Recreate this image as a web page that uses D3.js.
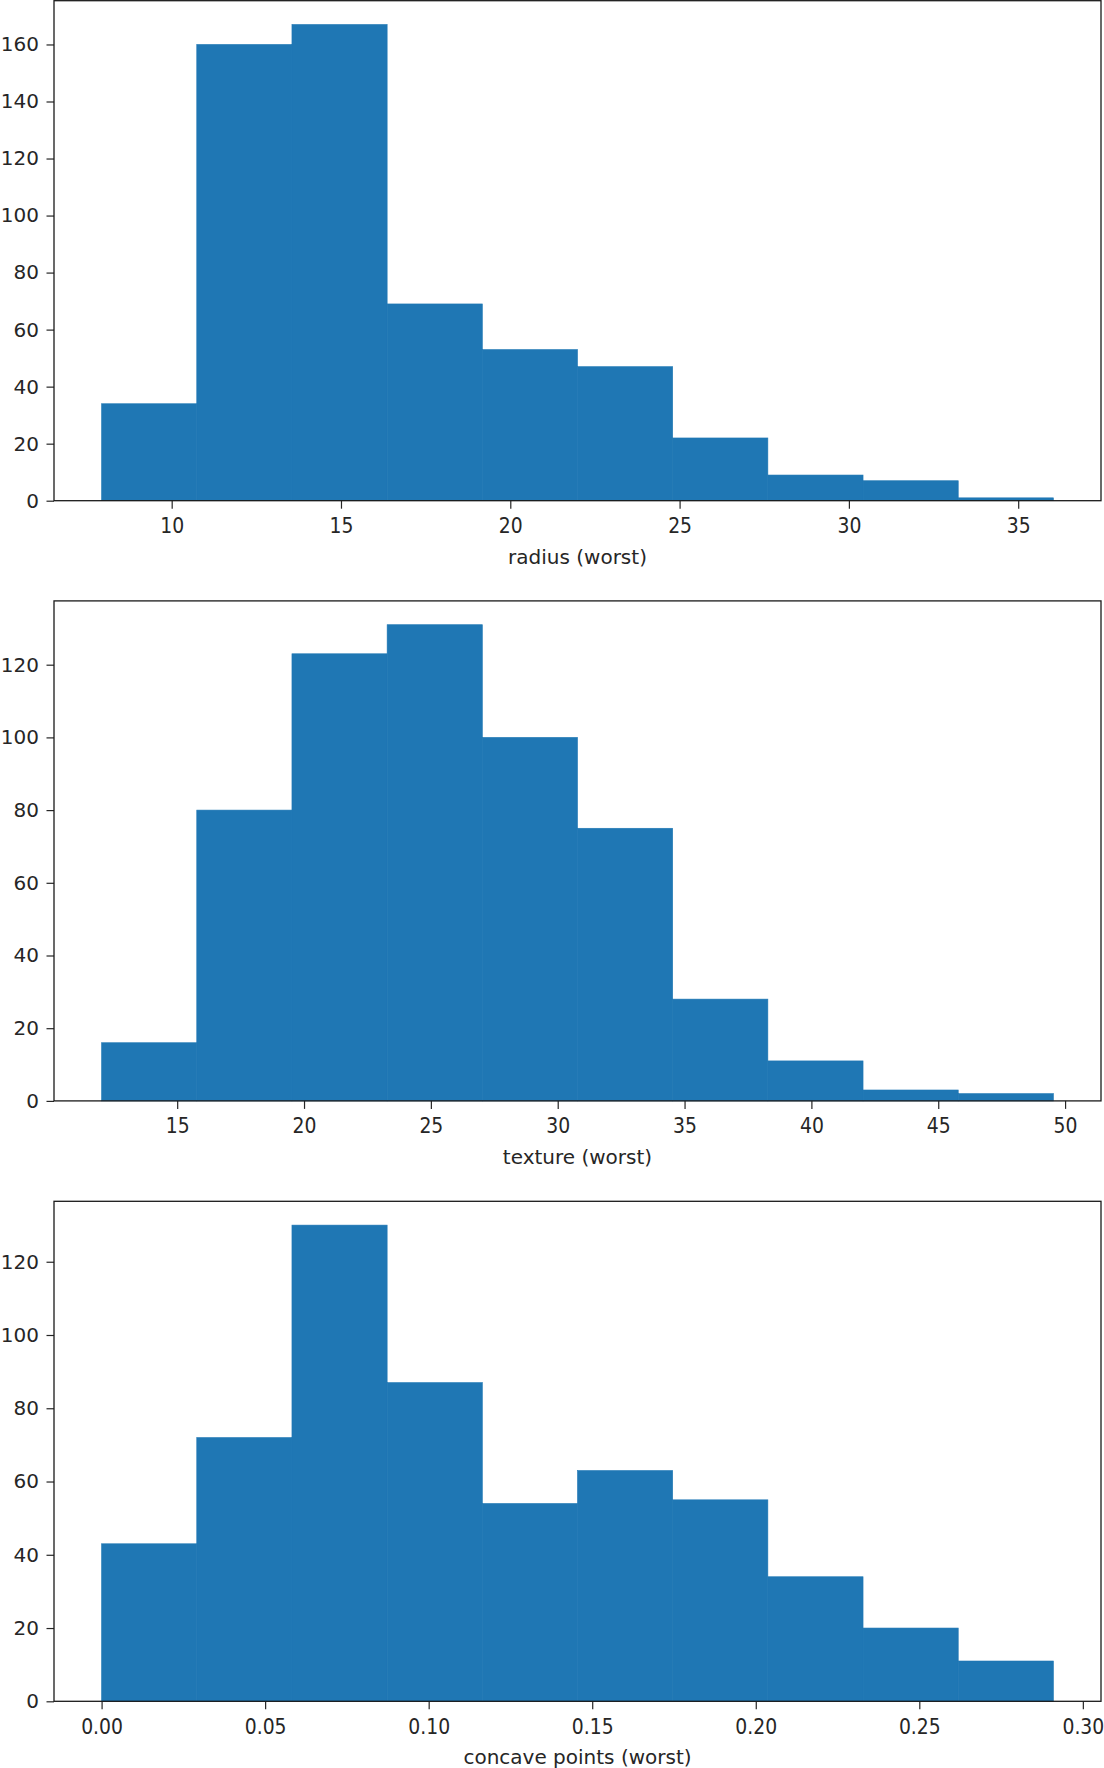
<!DOCTYPE html>
<html>
<head>
<meta charset="utf-8">
<script src="https://cdn.jsdelivr.net/npm/d3@7"></script>
<style>
  html, body { margin: 0; padding: 0; background: #ffffff; }
  svg { display: block; }
</style>
</head>
<body>
<div id="chart"></div>
<script>
// ---------- data ----------
const radiusEdges  = [7.93, 10.741, 13.552, 16.363, 19.174, 21.985, 24.796, 27.607, 30.418, 33.229, 36.04];
const radiusCounts = [34, 160, 167, 69, 53, 47, 22, 9, 7, 1];
const radiusTicksX = [10, 15, 20, 25, 30, 35];
const radiusTicksY = [0, 20, 40, 60, 80, 100, 120, 140, 160];

const textureEdges  = [12.02, 15.772, 19.524, 23.276, 27.028, 30.78, 34.532, 38.284, 42.036, 45.788, 49.54];
const textureCounts = [16, 80, 123, 131, 100, 75, 28, 11, 3, 2];
const textureTicksX = [15, 20, 25, 30, 35, 40, 45, 50];
const textureTicksY = [0, 20, 40, 60, 80, 100, 120];

const concaveEdges  = [0, 0.0291, 0.0582, 0.0873, 0.1164, 0.1455, 0.1746, 0.2037, 0.2328, 0.2619, 0.291];
const concaveCounts = [43, 72, 130, 87, 54, 63, 55, 34, 20, 11];
const concaveTicksX = [0.00, 0.05, 0.10, 0.15, 0.20, 0.25, 0.30];
const concaveTicksY = [0, 20, 40, 60, 80, 100, 120];

const panels = [
  { edges: radiusEdges,  counts: radiusCounts,  ticksX: radiusTicksX,  ticksY: radiusTicksY,  fmt: d3.format("d"),   label: "radius (worst)" },
  { edges: textureEdges, counts: textureCounts, ticksX: textureTicksX, ticksY: textureTicksY, fmt: d3.format("d"),   label: "texture (worst)" },
  { edges: concaveEdges, counts: concaveCounts, ticksX: concaveTicksX, ticksY: concaveTicksY, fmt: d3.format(".2f"), label: "concave points (worst)" }
];

// ---------- layout ----------
const W = 1104, H = 1768;
const left = 54, right = 1101;
const tops = [0.7, 600.9, 1201.3];
const plotH = 500;
const barColor = "#1f77b4";
const ink = "#262626";
const font = "'DejaVu Sans', sans-serif";

const svg = d3.select("#chart").append("svg")
  .attr("width", W).attr("height", H)
  .attr("viewBox", `0 0 ${W} ${H}`);

panels.forEach((p, i) => {
  const top = tops[i], bottom = top + plotH;
  const lo = p.edges[0], hi = p.edges[p.edges.length - 1];
  const pad = (hi - lo) * 0.05;
  const x = d3.scaleLinear().domain([lo - pad, hi + pad]).range([left, right]);
  const y = d3.scaleLinear().domain([0, d3.max(p.counts) * 1.05]).range([bottom, top]);

  const g = svg.append("g");

  // bars (single colour, seams hidden with a hairline stroke of the same colour)
  g.append("g").selectAll("rect")
    .data(p.counts)
    .join("rect")
    .attr("x", (d, j) => x(p.edges[j]))
    .attr("width", (d, j) => x(p.edges[j + 1]) - x(p.edges[j]))
    .attr("y", d => y(d))
    .attr("height", d => y(0) - y(d))
    .attr("fill", barColor)
    .attr("stroke", barColor)
    .attr("stroke-width", 0.6);

  // x axis
  const gx = g.append("g")
    .attr("transform", `translate(0,${bottom})`)
    .call(d3.axisBottom(x).tickValues(p.ticksX).tickFormat(p.fmt).tickSize(8).tickSizeOuter(0).tickPadding(9));
  gx.select(".domain").remove();
  gx.selectAll(".tick line").attr("stroke", ink).attr("stroke-width", 1.2);
  gx.selectAll(".tick text")
    .attr("fill", ink)
    .attr("transform", "scale(0.94,1.04)")
    .style("font-family", font).style("font-size", "20px");

  // y axis
  const gy = g.append("g")
    .attr("transform", `translate(${left},0)`)
    .call(d3.axisLeft(y).tickValues(p.ticksY).tickFormat(d3.format("d")).tickSize(7.5).tickSizeOuter(0).tickPadding(7.5));
  gy.select(".domain").remove();
  gy.selectAll(".tick line").attr("stroke", ink).attr("stroke-width", 1.2);
  gy.selectAll(".tick text").attr("fill", ink).style("font-family", font).style("font-size", "20px");

  // frame (spines)
  g.append("rect")
    .attr("x", left).attr("y", top)
    .attr("width", right - left).attr("height", plotH)
    .attr("fill", "none")
    .attr("stroke", "#1a1a1a")
    .attr("stroke-width", 1.3);

  // x label
  g.append("text")
    .attr("x", (left + right) / 2)
    .attr("y", bottom + 63)
    .attr("text-anchor", "middle")
    .attr("fill", ink)
    .style("font-family", font)
    .style("font-size", "20px")
    .text(p.label);
});
</script>
</body>
</html>
